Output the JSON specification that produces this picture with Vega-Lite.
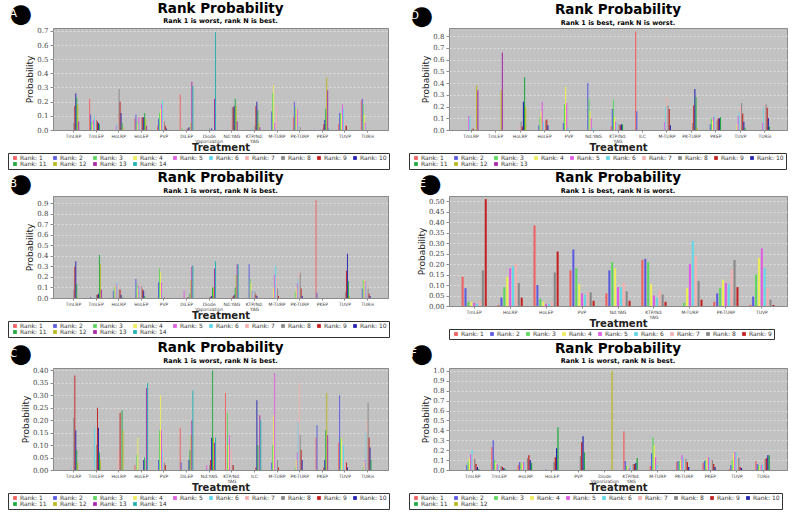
{
"$schema": "https://vega.github.io/schema/vega-lite/v6.json",
"background": "white",
"padding": {"left": 7, "top": 1, "right": 2, "bottom": 0},
"datasets": {
"A": [
{"t":"TmLRP","r":8,"v":0.05},{"t":"TmLRP","r":9,"v":0.17},{"t":"TmLRP","r":10,"v":0.26},{"t":"TmLRP","r":11,"v":0.23},{"t":"TmLRP","r":12,"v":0.18},{"t":"TmLRP","r":13,"v":0.06},
{"t":"TmLEP","r":1,"v":0.22},{"t":"TmLEP","r":2,"v":0.11},{"t":"TmLEP","r":3,"v":0.06},{"t":"TmLEP","r":4,"v":0.04},{"t":"TmLEP","r":5,"v":0.07},{"t":"TmLEP","r":6,"v":0.1},{"t":"TmLEP","r":7,"v":0.1},{"t":"TmLEP","r":8,"v":0.07},{"t":"TmLEP","r":9,"v":0.06},{"t":"TmLEP","r":10,"v":0.05},{"t":"TmLEP","r":11,"v":0.04},
{"t":"HoLRP","r":5,"v":0.03},{"t":"HoLRP","r":6,"v":0.05},{"t":"HoLRP","r":7,"v":0.1},{"t":"HoLRP","r":8,"v":0.29},{"t":"HoLRP","r":9,"v":0.2},{"t":"HoLRP","r":10,"v":0.12},{"t":"HoLRP","r":11,"v":0.05},{"t":"HoLRP","r":12,"v":0.02},
{"t":"HoLEP","r":1,"v":0.08},{"t":"HoLEP","r":2,"v":0.11},{"t":"HoLEP","r":3,"v":0.06},{"t":"HoLEP","r":4,"v":0.04},{"t":"HoLEP","r":5,"v":0.09},{"t":"HoLEP","r":6,"v":0.05},{"t":"HoLEP","r":7,"v":0.09},{"t":"HoLEP","r":8,"v":0.09},{"t":"HoLEP","r":9,"v":0.09},{"t":"HoLEP","r":10,"v":0.09},{"t":"HoLEP","r":11,"v":0.12},{"t":"HoLEP","r":12,"v":0.08},{"t":"HoLEP","r":13,"v":0.03},
{"t":"PVP","r":1,"v":0.03},{"t":"PVP","r":2,"v":0.08},{"t":"PVP","r":3,"v":0.12},{"t":"PVP","r":4,"v":0.15},{"t":"PVP","r":5,"v":0.18},{"t":"PVP","r":6,"v":0.21},{"t":"PVP","r":7,"v":0.07},{"t":"PVP","r":8,"v":0.06},{"t":"PVP","r":9,"v":0.03},{"t":"PVP","r":10,"v":0.01},
{"t":"DiLEP","r":1,"v":0.25},{"t":"DiLEP","r":3,"v":0.01},{"t":"DiLEP","r":8,"v":0.01},{"t":"DiLEP","r":9,"v":0.01},{"t":"DiLEP","r":10,"v":0.02},{"t":"DiLEP","r":12,"v":0.05},{"t":"DiLEP","r":13,"v":0.34},{"t":"DiLEP","r":14,"v":0.31},
{"t":"Diode Vaporization","r":8,"v":0.01},{"t":"Diode Vaporization","r":10,"v":0.01},{"t":"Diode Vaporization","r":13,"v":0.22},{"t":"Diode Vaporization","r":14,"v":0.69},
{"t":"Nd:YAG","r":7,"v":0.08},{"t":"Nd:YAG","r":8,"v":0.16},{"t":"Nd:YAG","r":9,"v":0.16},{"t":"Nd:YAG","r":10,"v":0.17},{"t":"Nd:YAG","r":11,"v":0.22},{"t":"Nd:YAG","r":12,"v":0.17},{"t":"Nd:YAG","r":13,"v":0.06},
{"t":"KTP/Nd:YAG","r":6,"v":0.02},{"t":"KTP/Nd:YAG","r":7,"v":0.02},{"t":"KTP/Nd:YAG","r":8,"v":0.03},{"t":"KTP/Nd:YAG","r":9,"v":0.17},{"t":"KTP/Nd:YAG","r":10,"v":0.2},{"t":"KTP/Nd:YAG","r":11,"v":0.14},{"t":"KTP/Nd:YAG","r":12,"v":0.05},{"t":"KTP/Nd:YAG","r":13,"v":0.02},
{"t":"M-TURP","r":2,"v":0.13},{"t":"M-TURP","r":3,"v":0.26},{"t":"M-TURP","r":4,"v":0.32},{"t":"M-TURP","r":5,"v":0.05},{"t":"M-TURP","r":6,"v":0.01},{"t":"M-TURP","r":7,"v":0.17},
{"t":"PK-TURP","r":1,"v":0.09},{"t":"PK-TURP","r":2,"v":0.2},{"t":"PK-TURP","r":3,"v":0.16},{"t":"PK-TURP","r":4,"v":0.15},{"t":"PK-TURP","r":5,"v":0.15},{"t":"PK-TURP","r":6,"v":0.03},{"t":"PK-TURP","r":7,"v":0.01},{"t":"PK-TURP","r":8,"v":0.02},
{"t":"PKEP","r":8,"v":0.01},{"t":"PKEP","r":9,"v":0.04},{"t":"PKEP","r":10,"v":0.07},{"t":"PKEP","r":11,"v":0.15},{"t":"PKEP","r":12,"v":0.37},{"t":"PKEP","r":13,"v":0.28},{"t":"PKEP","r":14,"v":0.01},
{"t":"TUVP","r":1,"v":0.04},{"t":"TUVP","r":2,"v":0.12},{"t":"TUVP","r":3,"v":0.12},{"t":"TUVP","r":4,"v":0.11},{"t":"TUVP","r":5,"v":0.18},{"t":"TUVP","r":6,"v":0.15},{"t":"TUVP","r":7,"v":0.07},{"t":"TUVP","r":8,"v":0.03},{"t":"TUVP","r":9,"v":0.03},
{"t":"TURis","r":1,"v":0.21},{"t":"TURis","r":2,"v":0.22},{"t":"TURis","r":3,"v":0.18},{"t":"TURis","r":4,"v":0.11},{"t":"TURis","r":5,"v":0.05},{"t":"TURis","r":6,"v":0.02},{"t":"TURis","r":7,"v":0.01}
],
"B": [
{"t":"TmLRP","r":8,"v":0.08},{"t":"TmLRP","r":9,"v":0.3},{"t":"TmLRP","r":10,"v":0.35},{"t":"TmLRP","r":11,"v":0.13},{"t":"TmLRP","r":12,"v":0.01},
{"t":"TmLEP","r":2,"v":0.01},{"t":"TmLEP","r":6,"v":0.01},{"t":"TmLEP","r":8,"v":0.03},{"t":"TmLEP","r":9,"v":0.03},{"t":"TmLEP","r":10,"v":0.04},{"t":"TmLEP","r":11,"v":0.41},{"t":"TmLEP","r":12,"v":0.32},{"t":"TmLEP","r":13,"v":0.08},
{"t":"HoLRP","r":2,"v":0.07},{"t":"HoLRP","r":3,"v":0.1},{"t":"HoLRP","r":4,"v":0.12},{"t":"HoLRP","r":5,"v":0.13},{"t":"HoLRP","r":6,"v":0.15},{"t":"HoLRP","r":7,"v":0.13},{"t":"HoLRP","r":8,"v":0.08},{"t":"HoLRP","r":9,"v":0.08},{"t":"HoLRP","r":10,"v":0.03},{"t":"HoLRP","r":11,"v":0.01},
{"t":"HoLEP","r":2,"v":0.18},{"t":"HoLEP","r":3,"v":0.13},{"t":"HoLEP","r":4,"v":0.09},{"t":"HoLEP","r":5,"v":0.12},{"t":"HoLEP","r":6,"v":0.1},{"t":"HoLEP","r":7,"v":0.13},{"t":"HoLEP","r":8,"v":0.11},{"t":"HoLEP","r":9,"v":0.08},{"t":"HoLEP","r":10,"v":0.07},{"t":"HoLEP","r":11,"v":0.02},
{"t":"PVP","r":2,"v":0.15},{"t":"PVP","r":3,"v":0.28},{"t":"PVP","r":4,"v":0.25},{"t":"PVP","r":5,"v":0.15},{"t":"PVP","r":6,"v":0.03},{"t":"PVP","r":7,"v":0.03},{"t":"PVP","r":8,"v":0.01},
{"t":"DiLEP","r":5,"v":0.07},{"t":"DiLEP","r":9,"v":0.01},{"t":"DiLEP","r":11,"v":0.04},{"t":"DiLEP","r":12,"v":0.17},{"t":"DiLEP","r":13,"v":0.3},{"t":"DiLEP","r":14,"v":0.31},
{"t":"Diode Vaporization","r":8,"v":0.01},{"t":"Diode Vaporization","r":9,"v":0.01},{"t":"Diode Vaporization","r":10,"v":0.02},{"t":"Diode Vaporization","r":11,"v":0.1},{"t":"Diode Vaporization","r":12,"v":0.1},{"t":"Diode Vaporization","r":13,"v":0.28},{"t":"Diode Vaporization","r":14,"v":0.35},
{"t":"Nd:YAG","r":7,"v":0.01},{"t":"Nd:YAG","r":8,"v":0.01},{"t":"Nd:YAG","r":9,"v":0.02},{"t":"Nd:YAG","r":10,"v":0.03},{"t":"Nd:YAG","r":11,"v":0.1},{"t":"Nd:YAG","r":12,"v":0.22},{"t":"Nd:YAG","r":13,"v":0.32},{"t":"Nd:YAG","r":14,"v":0.32},
{"t":"KTP/Nd:YAG","r":2,"v":0.32},{"t":"KTP/Nd:YAG","r":3,"v":0.18},{"t":"KTP/Nd:YAG","r":4,"v":0.14},{"t":"KTP/Nd:YAG","r":5,"v":0.07},{"t":"KTP/Nd:YAG","r":6,"v":0.07},{"t":"KTP/Nd:YAG","r":7,"v":0.05},{"t":"KTP/Nd:YAG","r":8,"v":0.06},{"t":"KTP/Nd:YAG","r":9,"v":0.03},{"t":"KTP/Nd:YAG","r":10,"v":0.02},
{"t":"M-TURP","r":4,"v":0.1},{"t":"M-TURP","r":5,"v":0.22},{"t":"M-TURP","r":6,"v":0.31},{"t":"M-TURP","r":7,"v":0.2},{"t":"M-TURP","r":8,"v":0.09},{"t":"M-TURP","r":9,"v":0.02},
{"t":"PK-TURP","r":3,"v":0.06},{"t":"PK-TURP","r":4,"v":0.1},{"t":"PK-TURP","r":5,"v":0.14},{"t":"PK-TURP","r":6,"v":0.18},{"t":"PK-TURP","r":7,"v":0.24},{"t":"PK-TURP","r":8,"v":0.24},{"t":"PK-TURP","r":9,"v":0.09},{"t":"PK-TURP","r":10,"v":0.02},
{"t":"PKEP","r":1,"v":0.93},{"t":"PKEP","r":2,"v":0.05},
{"t":"TUVP","r":7,"v":0.01},{"t":"TUVP","r":8,"v":0.06},{"t":"TUVP","r":9,"v":0.26},{"t":"TUVP","r":10,"v":0.42},{"t":"TUVP","r":11,"v":0.16},{"t":"TUVP","r":12,"v":0.02},
{"t":"TURis","r":2,"v":0.09},{"t":"TURis","r":3,"v":0.17},{"t":"TURis","r":4,"v":0.17},{"t":"TURis","r":5,"v":0.16},{"t":"TURis","r":6,"v":0.13},{"t":"TURis","r":7,"v":0.13},{"t":"TURis","r":8,"v":0.09},{"t":"TURis","r":9,"v":0.04},{"t":"TURis","r":10,"v":0.02}
],
"C": [
{"t":"TmLRP","r":6,"v":0.01},{"t":"TmLRP","r":7,"v":0.02},{"t":"TmLRP","r":8,"v":0.21},{"t":"TmLRP","r":9,"v":0.38},{"t":"TmLRP","r":10,"v":0.16},{"t":"TmLRP","r":11,"v":0.08},{"t":"TmLRP","r":12,"v":0.03},
{"t":"TmLEP","r":6,"v":0.17},{"t":"TmLEP","r":7,"v":0.01},{"t":"TmLEP","r":8,"v":0.1},{"t":"TmLEP","r":9,"v":0.25},{"t":"TmLEP","r":10,"v":0.17},{"t":"TmLEP","r":11,"v":0.07},{"t":"TmLEP","r":12,"v":0.04},
{"t":"HoLRP","r":7,"v":0.08},{"t":"HoLRP","r":9,"v":0.23},{"t":"HoLRP","r":11,"v":0.24},{"t":"HoLRP","r":12,"v":0.16},
{"t":"HoLEP","r":1,"v":0.02},{"t":"HoLEP","r":3,"v":0.06},{"t":"HoLEP","r":4,"v":0.13},{"t":"HoLEP","r":10,"v":0.04},{"t":"HoLEP","r":11,"v":0.05},{"t":"HoLEP","r":13,"v":0.33},{"t":"HoLEP","r":14,"v":0.35},
{"t":"PVP","r":2,"v":0.04},{"t":"PVP","r":3,"v":0.16},{"t":"PVP","r":4,"v":0.3},{"t":"PVP","r":5,"v":0.16},{"t":"PVP","r":6,"v":0.08},{"t":"PVP","r":7,"v":0.08},{"t":"PVP","r":8,"v":0.03},{"t":"PVP","r":9,"v":0.02},
{"t":"DiLEP","r":1,"v":0.17},{"t":"DiLEP","r":2,"v":0.03},{"t":"DiLEP","r":10,"v":0.04},{"t":"DiLEP","r":11,"v":0.08},{"t":"DiLEP","r":12,"v":0.14},{"t":"DiLEP","r":13,"v":0.2},{"t":"DiLEP","r":14,"v":0.32},
{"t":"Nd:YAG","r":5,"v":0.02},{"t":"Nd:YAG","r":8,"v":0.02},{"t":"Nd:YAG","r":9,"v":0.04},{"t":"Nd:YAG","r":10,"v":0.13},{"t":"Nd:YAG","r":11,"v":0.4},{"t":"Nd:YAG","r":12,"v":0.13},{"t":"Nd:YAG","r":13,"v":0.11},{"t":"Nd:YAG","r":14,"v":0.13},
{"t":"KTP/Nd:YAG","r":1,"v":0.31},{"t":"KTP/Nd:YAG","r":3,"v":0.23},{"t":"KTP/Nd:YAG","r":4,"v":0.1},{"t":"KTP/Nd:YAG","r":5,"v":0.14},{"t":"KTP/Nd:YAG","r":7,"v":0.08},{"t":"KTP/Nd:YAG","r":8,"v":0.02},{"t":"KTP/Nd:YAG","r":9,"v":0.02},
{"t":"ILC","r":9,"v":0.01},{"t":"ILC","r":10,"v":0.28},{"t":"ILC","r":11,"v":0.1},{"t":"ILC","r":13,"v":0.22},{"t":"ILC","r":14,"v":0.2},
{"t":"M-TURP","r":2,"v":0.03},{"t":"M-TURP","r":3,"v":0.1},{"t":"M-TURP","r":4,"v":0.22},{"t":"M-TURP","r":5,"v":0.39},{"t":"M-TURP","r":8,"v":0.04},{"t":"M-TURP","r":9,"v":0.01},
{"t":"PK-TURP","r":3,"v":0.01},{"t":"PK-TURP","r":4,"v":0.04},{"t":"PK-TURP","r":5,"v":0.07},{"t":"PK-TURP","r":6,"v":0.19},{"t":"PK-TURP","r":7,"v":0.35},{"t":"PK-TURP","r":8,"v":0.14},{"t":"PK-TURP","r":9,"v":0.08},{"t":"PK-TURP","r":10,"v":0.04},
{"t":"PKEP","r":1,"v":0.13},{"t":"PKEP","r":2,"v":0.18},{"t":"PKEP","r":9,"v":0.01},{"t":"PKEP","r":10,"v":0.04},{"t":"PKEP","r":11,"v":0.16},{"t":"PKEP","r":12,"v":0.31},{"t":"PKEP","r":13,"v":0.14},
{"t":"TUVP","r":1,"v":0.11},{"t":"TUVP","r":2,"v":0.3},{"t":"TUVP","r":3,"v":0.13},{"t":"TUVP","r":4,"v":0.13},{"t":"TUVP","r":6,"v":0.1},{"t":"TUVP","r":7,"v":0.04},{"t":"TUVP","r":9,"v":0.03},{"t":"TUVP","r":10,"v":0.01},
{"t":"TURis","r":3,"v":0.01},{"t":"TURis","r":4,"v":0.03},{"t":"TURis","r":5,"v":0.04},{"t":"TURis","r":6,"v":0.15},{"t":"TURis","r":7,"v":0.2},{"t":"TURis","r":8,"v":0.27},{"t":"TURis","r":9,"v":0.13},{"t":"TURis","r":10,"v":0.09},{"t":"TURis","r":11,"v":0.04}
],
"D": [
{"t":"TmLRP","r":5,"v":0.12},{"t":"TmLRP","r":6,"v":0.12},{"t":"TmLRP","r":8,"v":0.01},{"t":"TmLRP","r":9,"v":0.01},{"t":"TmLRP","r":12,"v":0.38},{"t":"TmLRP","r":13,"v":0.34},
{"t":"TmLEP","r":12,"v":0.34},{"t":"TmLEP","r":13,"v":0.66},
{"t":"HoLRP","r":7,"v":0.03},{"t":"HoLRP","r":8,"v":0.07},{"t":"HoLRP","r":9,"v":0.03},{"t":"HoLRP","r":10,"v":0.24},{"t":"HoLRP","r":11,"v":0.45},{"t":"HoLRP","r":12,"v":0.2},
{"t":"HoLEP","r":2,"v":0.04},{"t":"HoLEP","r":3,"v":0.11},{"t":"HoLEP","r":4,"v":0.16},{"t":"HoLEP","r":5,"v":0.24},{"t":"HoLEP","r":6,"v":0.07},{"t":"HoLEP","r":7,"v":0.08},{"t":"HoLEP","r":8,"v":0.08},{"t":"HoLEP","r":9,"v":0.09},{"t":"HoLEP","r":10,"v":0.04},
{"t":"PVP","r":2,"v":0.06},{"t":"PVP","r":3,"v":0.22},{"t":"PVP","r":4,"v":0.37},{"t":"PVP","r":5,"v":0.23},{"t":"PVP","r":6,"v":0.02},
{"t":"Nd:YAG","r":2,"v":0.4},{"t":"Nd:YAG","r":3,"v":0.27},{"t":"Nd:YAG","r":4,"v":0.16},{"t":"Nd:YAG","r":5,"v":0.1},{"t":"Nd:YAG","r":6,"v":0.02},
{"t":"KTP/Nd:YAG","r":1,"v":0.03},{"t":"KTP/Nd:YAG","r":2,"v":0.18},{"t":"KTP/Nd:YAG","r":3,"v":0.26},{"t":"KTP/Nd:YAG","r":4,"v":0.11},{"t":"KTP/Nd:YAG","r":5,"v":0.07},{"t":"KTP/Nd:YAG","r":6,"v":0.06},{"t":"KTP/Nd:YAG","r":7,"v":0.05},{"t":"KTP/Nd:YAG","r":8,"v":0.05},{"t":"KTP/Nd:YAG","r":9,"v":0.04},{"t":"KTP/Nd:YAG","r":10,"v":0.05},{"t":"KTP/Nd:YAG","r":11,"v":0.05},
{"t":"ILC","r":1,"v":0.84},{"t":"ILC","r":2,"v":0.16},
{"t":"M-TURP","r":5,"v":0.07},{"t":"M-TURP","r":6,"v":0.2},{"t":"M-TURP","r":7,"v":0.28},{"t":"M-TURP","r":8,"v":0.21},{"t":"M-TURP","r":9,"v":0.18},{"t":"M-TURP","r":10,"v":0.04},
{"t":"PK-TURP","r":7,"v":0.08},{"t":"PK-TURP","r":8,"v":0.06},{"t":"PK-TURP","r":9,"v":0.21},{"t":"PK-TURP","r":10,"v":0.35},{"t":"PK-TURP","r":11,"v":0.28},{"t":"PK-TURP","r":12,"v":0.02},
{"t":"PKEP","r":2,"v":0.05},{"t":"PKEP","r":3,"v":0.1},{"t":"PKEP","r":4,"v":0.08},{"t":"PKEP","r":5,"v":0.11},{"t":"PKEP","r":6,"v":0.12},{"t":"PKEP","r":7,"v":0.1},{"t":"PKEP","r":8,"v":0.08},{"t":"PKEP","r":9,"v":0.1},{"t":"PKEP","r":10,"v":0.1},{"t":"PKEP","r":11,"v":0.11},
{"t":"TUVP","r":4,"v":0.05},{"t":"TUVP","r":5,"v":0.12},{"t":"TUVP","r":6,"v":0.15},{"t":"TUVP","r":7,"v":0.2},{"t":"TUVP","r":8,"v":0.23},{"t":"TUVP","r":9,"v":0.14},{"t":"TUVP","r":10,"v":0.07},{"t":"TUVP","r":11,"v":0.02},
{"t":"TURis","r":5,"v":0.06},{"t":"TURis","r":6,"v":0.2},{"t":"TURis","r":7,"v":0.22},{"t":"TURis","r":8,"v":0.22},{"t":"TURis","r":9,"v":0.19},{"t":"TURis","r":10,"v":0.1},{"t":"TURis","r":11,"v":0.03}
],
"E": [
{"t":"TmLEP","r":1,"v":0.14},{"t":"TmLEP","r":2,"v":0.085},{"t":"TmLEP","r":3,"v":0.02},{"t":"TmLEP","r":4,"v":0.02},{"t":"TmLEP","r":5,"v":0.015},{"t":"TmLEP","r":6,"v":0.01},{"t":"TmLEP","r":7,"v":0.025},{"t":"TmLEP","r":8,"v":0.17},{"t":"TmLEP","r":9,"v":0.51},
{"t":"HoLRP","r":1,"v":0.005},{"t":"HoLRP","r":2,"v":0.04},{"t":"HoLRP","r":3,"v":0.09},{"t":"HoLRP","r":4,"v":0.14},{"t":"HoLRP","r":5,"v":0.18},{"t":"HoLRP","r":6,"v":0.19},{"t":"HoLRP","r":7,"v":0.2},{"t":"HoLRP","r":8,"v":0.11},{"t":"HoLRP","r":9,"v":0.04},
{"t":"HoLEP","r":1,"v":0.385},{"t":"HoLEP","r":2,"v":0.1},{"t":"HoLEP","r":3,"v":0.035},{"t":"HoLEP","r":4,"v":0.02},{"t":"HoLEP","r":5,"v":0.01},{"t":"HoLEP","r":6,"v":0.01},{"t":"HoLEP","r":7,"v":0.02},{"t":"HoLEP","r":8,"v":0.16},{"t":"HoLEP","r":9,"v":0.26},
{"t":"PVP","r":1,"v":0.17},{"t":"PVP","r":2,"v":0.27},{"t":"PVP","r":3,"v":0.18},{"t":"PVP","r":4,"v":0.105},{"t":"PVP","r":5,"v":0.06},{"t":"PVP","r":6,"v":0.055},{"t":"PVP","r":7,"v":0.065},{"t":"PVP","r":8,"v":0.065},{"t":"PVP","r":9,"v":0.025},
{"t":"Nd:YAG","r":1,"v":0.06},{"t":"Nd:YAG","r":2,"v":0.17},{"t":"Nd:YAG","r":3,"v":0.21},{"t":"Nd:YAG","r":4,"v":0.18},{"t":"Nd:YAG","r":5,"v":0.09},{"t":"Nd:YAG","r":6,"v":0.09},{"t":"Nd:YAG","r":7,"v":0.11},{"t":"Nd:YAG","r":8,"v":0.07},{"t":"Nd:YAG","r":9,"v":0.025},
{"t":"KTP/Nd:YAG","r":1,"v":0.22},{"t":"KTP/Nd:YAG","r":2,"v":0.225},{"t":"KTP/Nd:YAG","r":3,"v":0.21},{"t":"KTP/Nd:YAG","r":4,"v":0.105},{"t":"KTP/Nd:YAG","r":5,"v":0.05},{"t":"KTP/Nd:YAG","r":6,"v":0.04},{"t":"KTP/Nd:YAG","r":7,"v":0.075},{"t":"KTP/Nd:YAG","r":8,"v":0.055},{"t":"KTP/Nd:YAG","r":9,"v":0.02},
{"t":"M-TURP","r":3,"v":0.015},{"t":"M-TURP","r":4,"v":0.085},{"t":"M-TURP","r":5,"v":0.2},{"t":"M-TURP","r":6,"v":0.31},{"t":"M-TURP","r":7,"v":0.24},{"t":"M-TURP","r":8,"v":0.12},{"t":"M-TURP","r":9,"v":0.03},
{"t":"PK-TURP","r":1,"v":0.02},{"t":"PK-TURP","r":2,"v":0.06},{"t":"PK-TURP","r":3,"v":0.085},{"t":"PK-TURP","r":4,"v":0.125},{"t":"PK-TURP","r":5,"v":0.11},{"t":"PK-TURP","r":6,"v":0.105},{"t":"PK-TURP","r":7,"v":0.175},{"t":"PK-TURP","r":8,"v":0.22},{"t":"PK-TURP","r":9,"v":0.09},
{"t":"TUVP","r":1,"v":0.005},{"t":"TUVP","r":2,"v":0.045},{"t":"TUVP","r":3,"v":0.15},{"t":"TUVP","r":4,"v":0.23},{"t":"TUVP","r":5,"v":0.275},{"t":"TUVP","r":6,"v":0.18},{"t":"TUVP","r":7,"v":0.085},{"t":"TUVP","r":8,"v":0.03},{"t":"TUVP","r":9,"v":0.005}
],
"F": [
{"t":"TmLRP","r":2,"v":0.05},{"t":"TmLRP","r":3,"v":0.08},{"t":"TmLRP","r":4,"v":0.12},{"t":"TmLRP","r":5,"v":0.16},{"t":"TmLRP","r":6,"v":0.2},{"t":"TmLRP","r":7,"v":0.16},{"t":"TmLRP","r":8,"v":0.11},{"t":"TmLRP","r":9,"v":0.06},{"t":"TmLRP","r":10,"v":0.03},{"t":"TmLRP","r":11,"v":0.01},
{"t":"TmLEP","r":1,"v":0.23},{"t":"TmLEP","r":2,"v":0.3},{"t":"TmLEP","r":3,"v":0.1},{"t":"TmLEP","r":4,"v":0.07},{"t":"TmLEP","r":5,"v":0.06},{"t":"TmLEP","r":6,"v":0.05},{"t":"TmLEP","r":7,"v":0.04},{"t":"TmLEP","r":8,"v":0.04},{"t":"TmLEP","r":9,"v":0.03},{"t":"TmLEP","r":10,"v":0.02},{"t":"TmLEP","r":11,"v":0.01},
{"t":"HoLRP","r":1,"v":0.05},{"t":"HoLRP","r":2,"v":0.08},{"t":"HoLRP","r":3,"v":0.07},{"t":"HoLRP","r":4,"v":0.07},{"t":"HoLRP","r":5,"v":0.08},{"t":"HoLRP","r":6,"v":0.09},{"t":"HoLRP","r":7,"v":0.1},{"t":"HoLRP","r":8,"v":0.12},{"t":"HoLRP","r":9,"v":0.15},{"t":"HoLRP","r":10,"v":0.1},{"t":"HoLRP","r":11,"v":0.07},
{"t":"HoLEP","r":2,"v":0.005},{"t":"HoLEP","r":7,"v":0.01},{"t":"HoLEP","r":8,"v":0.08},{"t":"HoLEP","r":9,"v":0.13},{"t":"HoLEP","r":10,"v":0.22},{"t":"HoLEP","r":11,"v":0.43},
{"t":"PVP","r":7,"v":0.01},{"t":"PVP","r":8,"v":0.14},{"t":"PVP","r":9,"v":0.28},{"t":"PVP","r":10,"v":0.34},{"t":"PVP","r":11,"v":0.18},
{"t":"Diode Vaporization","r":12,"v":1.0},
{"t":"KTP/Nd:YAG","r":1,"v":0.39},{"t":"KTP/Nd:YAG","r":2,"v":0.09},{"t":"KTP/Nd:YAG","r":3,"v":0.04},{"t":"KTP/Nd:YAG","r":4,"v":0.03},{"t":"KTP/Nd:YAG","r":5,"v":0.02},{"t":"KTP/Nd:YAG","r":6,"v":0.04},{"t":"KTP/Nd:YAG","r":7,"v":0.05},{"t":"KTP/Nd:YAG","r":8,"v":0.06},{"t":"KTP/Nd:YAG","r":9,"v":0.06},{"t":"KTP/Nd:YAG","r":10,"v":0.07},{"t":"KTP/Nd:YAG","r":11,"v":0.12},
{"t":"M-TURP","r":1,"v":0.04},{"t":"M-TURP","r":2,"v":0.17},{"t":"M-TURP","r":3,"v":0.33},{"t":"M-TURP","r":4,"v":0.25},{"t":"M-TURP","r":5,"v":0.13},{"t":"M-TURP","r":6,"v":0.05},{"t":"M-TURP","r":7,"v":0.02},
{"t":"PK-TURP","r":1,"v":0.08},{"t":"PK-TURP","r":2,"v":0.09},{"t":"PK-TURP","r":3,"v":0.09},{"t":"PK-TURP","r":4,"v":0.1},{"t":"PK-TURP","r":5,"v":0.15},{"t":"PK-TURP","r":6,"v":0.13},{"t":"PK-TURP","r":7,"v":0.12},{"t":"PK-TURP","r":8,"v":0.11},{"t":"PK-TURP","r":9,"v":0.08},{"t":"PK-TURP","r":10,"v":0.03},
{"t":"PKEP","r":1,"v":0.07},{"t":"PKEP","r":2,"v":0.09},{"t":"PKEP","r":3,"v":0.1},{"t":"PKEP","r":4,"v":0.12},{"t":"PKEP","r":5,"v":0.13},{"t":"PKEP","r":6,"v":0.12},{"t":"PKEP","r":7,"v":0.11},{"t":"PKEP","r":8,"v":0.1},{"t":"PKEP","r":9,"v":0.06},{"t":"PKEP","r":10,"v":0.03},
{"t":"TUVP","r":1,"v":0.01},{"t":"TUVP","r":2,"v":0.05},{"t":"TUVP","r":3,"v":0.1},{"t":"TUVP","r":4,"v":0.17},{"t":"TUVP","r":5,"v":0.18},{"t":"TUVP","r":6,"v":0.17},{"t":"TUVP","r":7,"v":0.14},{"t":"TUVP","r":8,"v":0.12},{"t":"TUVP","r":9,"v":0.03},{"t":"TUVP","r":10,"v":0.02},
{"t":"TURis","r":1,"v":0.09},{"t":"TURis","r":2,"v":0.06},{"t":"TURis","r":3,"v":0.05},{"t":"TURis","r":4,"v":0.04},{"t":"TURis","r":5,"v":0.05},{"t":"TURis","r":6,"v":0.06},{"t":"TURis","r":7,"v":0.1},{"t":"TURis","r":8,"v":0.11},{"t":"TURis","r":9,"v":0.12},{"t":"TURis","r":10,"v":0.15},{"t":"TURis","r":11,"v":0.15}
]
},
"columns": 2,
"spacing": {"row": 0, "column": 18},
"resolve": {"scale": {"x": "independent", "y": "independent", "color": "independent", "xOffset": "independent"}, "legend": {"color": "independent"}},
"concat": [
{"vconcat": [{
 "width": 335, "height": 102, "data": {"name": "A"},
 "title": {"text": "Rank Probability", "subtitle": "Rank 1 is worst, rank N is best."},
 "mark": {"type": "bar"},
 "encoding": {
  "x": {"field": "t", "type": "nominal", "title": "Treatment", "scale": {"domain": ["TmLRP","TmLEP","HoLRP","HoLEP","PVP","DiLEP","Diode Vaporization","Nd:YAG","KTP/Nd:YAG","M-TURP","PK-TURP","PKEP","TUVP","TURis"], "paddingInner": 0.4, "paddingOuter": 0.6}},
  "xOffset": {"field": "r", "type": "ordinal", "scale": {"domain": [1,2,3,4,5,6,7,8,9,10,11,12,13,14], "paddingInner": 0.05}},
  "y": {"field": "v", "type": "quantitative", "title": "Probability", "scale": {"domain": [0, 0.72], "nice": false}, "axis": {"values": [0,0.1,0.2,0.3,0.4,0.5,0.6,0.7], "format": ".1f"}},
  "color": {"field": "r", "type": "ordinal", "scale": {"domain": [1,2,3,4,5,6,7,8,9,10,11,12,13,14], "range": ["#F25F5F","#5B5BE0","#5DD65D","#EDED5A","#E05CE0","#62D7E6","#F5AFAF","#888888","#C42020","#2323B0","#1FA83F","#B8B820","#A828A8","#20AFAF"]},
   "legend": {"orient": "none", "legendX": -45, "legendY": 125, "direction": "horizontal", "columns": 10, "symbolType": "square", "labelExpr": "'Rank: ' + datum.label"}}
 }
}], "title": {"text": "●", "subtitle": "\u00a0\u2009A", "anchor": "start", "frame": "bounds", "offset": -26, "dx": 2, "fontSize": 26, "fontWeight": "normal", "color": "#000", "subtitleColor": "#fff", "subtitleFontSize": 11, "subtitleFontWeight": "normal", "subtitlePadding": -19}},
{"vconcat": [{
 "width": 338, "height": 102, "data": {"name": "D"},
 "title": {"text": "Rank Probability", "subtitle": "Rank 1 is best, rank N is worst."},
 "mark": {"type": "bar"},
 "encoding": {
  "x": {"field": "t", "type": "nominal", "title": "Treatment", "scale": {"domain": ["TmLRP","TmLEP","HoLRP","HoLEP","PVP","Nd:YAG","KTP/Nd:YAG","ILC","M-TURP","PK-TURP","PKEP","TUVP","TURis"], "paddingInner": 0.4, "paddingOuter": 0.6}},
  "xOffset": {"field": "r", "type": "ordinal", "scale": {"domain": [1,2,3,4,5,6,7,8,9,10,11,12,13], "paddingInner": 0.05}},
  "y": {"field": "v", "type": "quantitative", "title": "Probability", "scale": {"domain": [0, 0.87], "nice": false}, "axis": {"values": [0,0.1,0.2,0.3,0.4,0.5,0.6,0.7,0.8], "format": ".1f"}},
  "color": {"field": "r", "type": "ordinal", "scale": {"domain": [1,2,3,4,5,6,7,8,9,10,11,12,13], "range": ["#F25F5F","#5B5BE0","#5DD65D","#EDED5A","#E05CE0","#62D7E6","#F5AFAF","#888888","#C42020","#2323B0","#1FA83F","#B8B820","#A828A8"]},
   "legend": {"orient": "none", "legendX": -40, "legendY": 125, "direction": "horizontal", "columns": 10, "symbolType": "square", "labelExpr": "'Rank: ' + datum.label"}}
 }
}], "title": {"text": "●", "subtitle": "\u00a0\u2009D", "anchor": "start", "frame": "bounds", "offset": -26, "dx": 2, "fontSize": 26, "fontWeight": "normal", "color": "#000", "subtitleColor": "#fff", "subtitleFontSize": 11, "subtitleFontWeight": "normal", "subtitlePadding": -19}},
{"vconcat": [{
 "width": 335, "height": 102, "data": {"name": "B"},
 "title": {"text": "Rank Probability", "subtitle": "Rank 1 is worst, rank N is best."},
 "mark": {"type": "bar"},
 "encoding": {
  "x": {"field": "t", "type": "nominal", "title": "Treatment", "scale": {"domain": ["TmLRP","TmLEP","HoLRP","HoLEP","PVP","DiLEP","Diode Vaporization","Nd:YAG","KTP/Nd:YAG","M-TURP","PK-TURP","PKEP","TUVP","TURis"], "paddingInner": 0.4, "paddingOuter": 0.6}},
  "xOffset": {"field": "r", "type": "ordinal", "scale": {"domain": [1,2,3,4,5,6,7,8,9,10,11,12,13,14], "paddingInner": 0.05}},
  "y": {"field": "v", "type": "quantitative", "title": "Probability", "scale": {"domain": [0, 0.97], "nice": false}, "axis": {"values": [0,0.1,0.2,0.3,0.4,0.5,0.6,0.7,0.8,0.9], "format": ".1f"}},
  "color": {"field": "r", "type": "ordinal", "scale": {"domain": [1,2,3,4,5,6,7,8,9,10,11,12,13,14], "range": ["#F25F5F","#5B5BE0","#5DD65D","#EDED5A","#E05CE0","#62D7E6","#F5AFAF","#888888","#C42020","#2323B0","#1FA83F","#B8B820","#A828A8","#20AFAF"]},
   "legend": {"orient": "none", "legendX": -45, "legendY": 125, "direction": "horizontal", "columns": 10, "symbolType": "square", "labelExpr": "'Rank: ' + datum.label"}}
 }
}], "title": {"text": "●", "subtitle": "\u00a0\u2009B", "anchor": "start", "frame": "bounds", "offset": -26, "dx": 2, "fontSize": 26, "fontWeight": "normal", "color": "#000", "subtitleColor": "#fff", "subtitleFontSize": 11, "subtitleFontWeight": "normal", "subtitlePadding": -19}},
{"vconcat": [{
 "width": 338, "height": 110, "data": {"name": "E"},
 "title": {"text": "Rank Probability", "subtitle": "Rank 1 is best, rank N is worst."},
 "mark": {"type": "bar"},
 "encoding": {
  "x": {"field": "t", "type": "nominal", "title": "Treatment", "scale": {"domain": ["TmLEP","HoLRP","HoLEP","PVP","Nd:YAG","KTP/Nd:YAG","M-TURP","PK-TURP","TUVP"], "paddingInner": 0.3, "paddingOuter": 0.35}},
  "xOffset": {"field": "r", "type": "ordinal", "scale": {"domain": [1,2,3,4,5,6,7,8,9], "paddingInner": 0.3}},
  "y": {"field": "v", "type": "quantitative", "title": "Probability", "scale": {"domain": [0, 0.525], "nice": false}, "axis": {"values": [0,0.05,0.1,0.15,0.2,0.25,0.3,0.35,0.4,0.45,0.5], "format": ".2f"}},
  "color": {"field": "r", "type": "ordinal", "scale": {"domain": [1,2,3,4,5,6,7,8,9], "range": ["#F25F5F","#5B5BE0","#5DD65D","#EDED5A","#E05CE0","#62D7E6","#F5AFAF","#888888","#C42020"]},
   "legend": {"orient": "none", "legendX": 0, "legendY": 133, "direction": "horizontal", "columns": 10, "symbolType": "square", "labelExpr": "'Rank: ' + datum.label"}}
 }
}], "title": {"text": "●", "subtitle": "\u00a0\u2009E", "anchor": "start", "frame": "bounds", "offset": -26, "dx": 2, "fontSize": 26, "fontWeight": "normal", "color": "#000", "subtitleColor": "#fff", "subtitleFontSize": 11, "subtitleFontWeight": "normal", "subtitlePadding": -19}},
{"vconcat": [{
 "width": 335, "height": 102, "data": {"name": "C"},
 "title": {"text": "Rank Probability", "subtitle": "Rank 1 is worst, rank N is best."},
 "mark": {"type": "bar"},
 "encoding": {
  "x": {"field": "t", "type": "nominal", "title": "Treatment", "scale": {"domain": ["TmLRP","TmLEP","HoLRP","HoLEP","PVP","DiLEP","Nd:YAG","KTP/Nd:YAG","ILC","M-TURP","PK-TURP","PKEP","TUVP","TURis"], "paddingInner": 0.4, "paddingOuter": 0.6}},
  "xOffset": {"field": "r", "type": "ordinal", "scale": {"domain": [1,2,3,4,5,6,7,8,9,10,11,12,13,14], "paddingInner": 0.05}},
  "y": {"field": "v", "type": "quantitative", "title": "Probability", "scale": {"domain": [0, 0.41], "nice": false}, "axis": {"values": [0,0.05,0.1,0.15,0.2,0.25,0.3,0.35,0.4], "format": ".2f"}},
  "color": {"field": "r", "type": "ordinal", "scale": {"domain": [1,2,3,4,5,6,7,8,9,10,11,12,13,14], "range": ["#F25F5F","#5B5BE0","#5DD65D","#EDED5A","#E05CE0","#62D7E6","#F5AFAF","#888888","#C42020","#2323B0","#1FA83F","#B8B820","#A828A8","#20AFAF"]},
   "legend": {"orient": "none", "legendX": -45, "legendY": 125, "direction": "horizontal", "columns": 10, "symbolType": "square", "labelExpr": "'Rank: ' + datum.label"}}
 }
}], "title": {"text": "●", "subtitle": "\u00a0\u2009C", "anchor": "start", "frame": "bounds", "offset": -26, "dx": 2, "fontSize": 26, "fontWeight": "normal", "color": "#000", "subtitleColor": "#fff", "subtitleFontSize": 11, "subtitleFontWeight": "normal", "subtitlePadding": -19}},
{"vconcat": [{
 "width": 338, "height": 102, "data": {"name": "F"},
 "title": {"text": "Rank Probability", "subtitle": "Rank 1 is worst, rank N is best."},
 "mark": {"type": "bar"},
 "encoding": {
  "x": {"field": "t", "type": "nominal", "title": "Treatment", "scale": {"domain": ["TmLRP","TmLEP","HoLRP","HoLEP","PVP","Diode Vaporization","KTP/Nd:YAG","M-TURP","PK-TURP","PKEP","TUVP","TURis"], "paddingInner": 0.4, "paddingOuter": 0.6}},
  "xOffset": {"field": "r", "type": "ordinal", "scale": {"domain": [1,2,3,4,5,6,7,8,9,10,11,12], "paddingInner": 0.05}},
  "y": {"field": "v", "type": "quantitative", "title": "Probability", "scale": {"domain": [0, 1.03], "nice": false}, "axis": {"values": [0,0.1,0.2,0.3,0.4,0.5,0.6,0.7,0.8,0.9,1.0], "format": ".1f"}},
  "color": {"field": "r", "type": "ordinal", "scale": {"domain": [1,2,3,4,5,6,7,8,9,10,11,12], "range": ["#F25F5F","#5B5BE0","#5DD65D","#EDED5A","#E05CE0","#62D7E6","#F5AFAF","#888888","#C42020","#2323B0","#1FA83F","#B8B820"]},
   "legend": {"orient": "none", "legendX": -40, "legendY": 125, "direction": "horizontal", "columns": 10, "symbolType": "square", "labelExpr": "'Rank: ' + datum.label"}}
 }
}], "title": {"text": "●", "subtitle": "\u00a0\u2009F", "anchor": "start", "frame": "bounds", "offset": -26, "dx": 2, "fontSize": 26, "fontWeight": "normal", "color": "#000", "subtitleColor": "#fff", "subtitleFontSize": 11, "subtitleFontWeight": "normal", "subtitlePadding": -19}}
],
"config": {
 "font": "DejaVu Sans",
 "view": {"fill": "#c2c2c2", "stroke": "#8a8a8a", "strokeWidth": 1},
 "title": {"fontSize": 13.5, "fontWeight": "bold", "color": "#000", "subtitleFontSize": 6.5, "subtitleFontWeight": "bold", "subtitleColor": "#000", "subtitlePadding": 0, "offset": 2, "anchor": "middle"},
 "axis": {"labelColor": "#444", "titleColor": "#222", "domainColor": "#8a8a8a", "tickColor": "#8a8a8a"},
 "axisX": {"labelAngle": 0, "labelFontSize": 4.5, "labelPadding": 1, "tickSize": 2, "titleFontSize": 10, "titleFontWeight": "bold", "titlePadding": 0, "grid": false, "labelExpr": "datum.label == 'Diode Vaporization' ? ['Diode', 'Vaporization'] : datum.label == 'KTP/Nd:YAG' ? ['KTP/Nd:', 'YAG'] : datum.label", "labelLineHeight": 5},
 "axisY": {"labelFontSize": 7, "labelFont": "DejaVu Serif", "tickSize": 3, "titleFontSize": 9, "titleFontWeight": "normal", "titlePadding": 2, "grid": true, "gridColor": "#ffffff", "gridOpacity": 0.45, "gridDash": [2, 2], "domain": false},
 "legend": {"title": null, "strokeColor": "#333", "padding": 2, "symbolType": "square", "symbolSize": 14, "symbolStrokeWidth": 0, "symbolOffset": 2, "labelFontSize": 6, "labelColor": "#333", "labelOffset": 2, "columnPadding": 3, "rowPadding": 0}
}
}
